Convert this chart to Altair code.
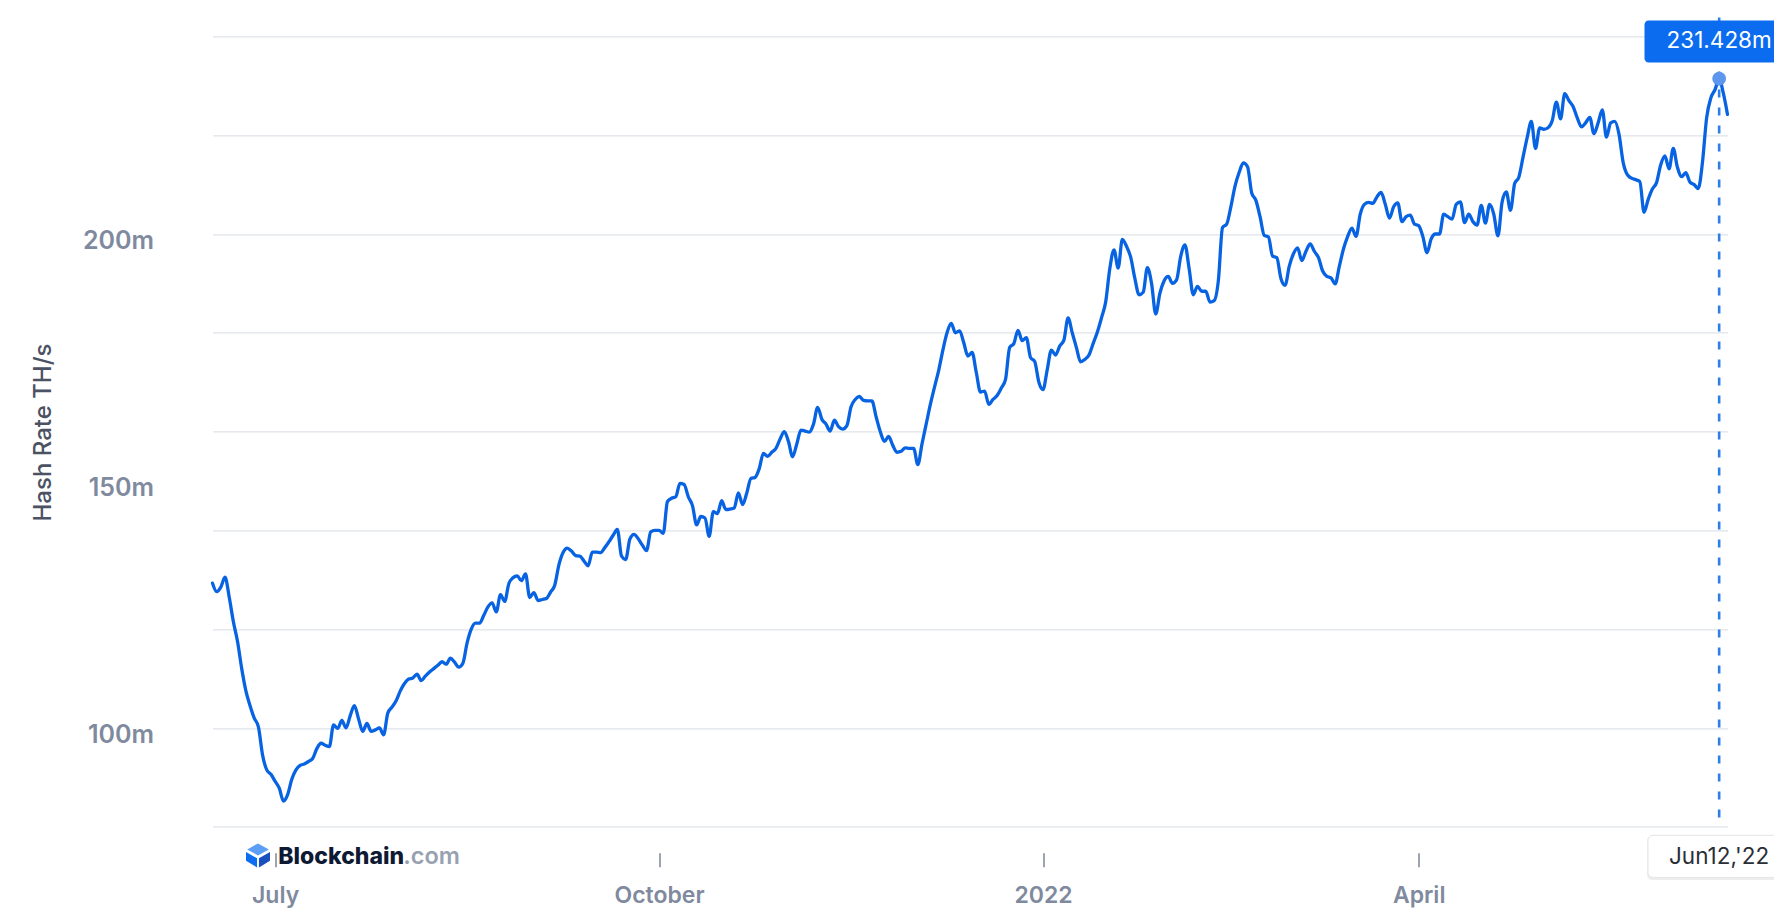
import altair as alt
import pandas as pd

# ---------------- data ----------------
start_date = "2021-06-16"
hash_rate = [
    129.3, 127.6, 128.5, 130.5, 126.5, 121.5, 117.5, 112.0, 107.5, 104.5,
    102.0, 100.2, 94.5, 91.5, 90.6, 89.2, 87.8, 85.2, 86.5, 89.6,
    91.5, 92.4, 92.7, 93.2, 93.8, 95.8, 96.9, 96.5, 96.2, 100.6,
    99.9, 101.5, 100.0, 102.5, 104.5, 101.8, 99.3, 100.9, 99.3, 99.6,
    100.0, 98.6, 103.0, 104.2, 105.5, 107.5, 109.0, 109.9, 110.1, 110.9,
    109.6, 110.5, 111.3, 112.0, 112.7, 113.4, 112.9, 114.1, 113.3, 112.3,
    113.1, 117.2, 120.0, 121.2, 121.2, 122.8, 124.5, 125.3, 123.5, 127.0,
    125.6, 129.2, 130.4, 130.8, 129.8, 131.2, 126.4, 127.4, 125.8, 126.0,
    126.2, 127.5, 128.9, 133.0, 135.5, 136.4, 135.8, 134.9, 134.8, 133.8,
    132.8, 135.6, 135.6, 135.5, 136.5, 137.7, 139.0, 140.2, 134.8, 134.1,
    138.2, 139.2, 138.3, 137.0, 135.9, 139.7, 140.0, 140.0, 139.4, 145.8,
    146.5, 146.8, 149.5, 149.3, 146.8, 145.0, 141.1, 142.8, 142.5, 138.8,
    143.8, 143.4, 146.0, 144.2, 144.3, 144.5, 147.6, 145.2, 147.5, 150.5,
    150.7, 152.5, 155.6, 155.0, 155.8, 156.6, 158.5, 160.0, 158.0, 154.9,
    157.5, 160.3, 160.1, 159.9, 161.5, 164.9, 162.5, 161.5, 160.1, 162.3,
    161.0, 160.5, 161.2, 165.0, 166.5, 167.1, 166.3, 166.2, 166.2, 163.0,
    160.0, 158.0, 159.0, 157.2, 155.8, 156.0, 156.7, 156.6, 156.6, 153.3,
    157.5, 161.5, 165.5, 169.0, 172.4, 176.5, 180.0, 181.9, 180.0, 180.4,
    178.0, 175.3, 176.0, 172.0, 168.0, 168.2, 165.5, 166.5, 167.3, 168.8,
    170.5, 177.0, 177.8, 180.5, 178.4, 179.0, 175.0, 174.2, 170.0, 168.5,
    172.5, 176.5, 175.5, 177.3, 178.5, 183.0, 180.0, 177.0, 174.1, 174.6,
    175.5, 177.8, 180.1, 183.0, 186.2, 193.0, 196.8, 193.1, 198.9, 197.5,
    195.3, 191.0, 187.7, 188.2, 193.2, 190.0, 183.8, 188.0, 190.5, 191.4,
    190.0, 190.7, 195.5, 197.8, 193.0, 187.7, 189.4, 188.4, 188.4, 186.2,
    186.5, 190.5, 201.3, 202.0, 205.5, 209.7, 212.5, 214.4, 213.6, 208.3,
    206.8, 203.5, 199.7, 199.4, 195.5, 195.2, 191.0, 189.6, 193.5, 196.0,
    197.2, 194.6, 196.5, 198.0, 196.5, 195.2, 192.5, 191.4, 191.1, 189.9,
    193.5, 197.0, 199.5, 201.2, 199.5, 204.0, 206.0, 206.4, 206.2, 207.5,
    208.4, 206.0, 203.2, 205.5, 206.3, 202.5, 203.5, 203.8, 202.0, 201.7,
    199.5, 196.2, 199.0, 200.0, 200.0, 204.0, 203.5, 203.0, 206.0, 206.5,
    202.3, 204.0, 202.5, 201.8, 205.8, 202.2, 206.0, 204.0, 199.6, 206.5,
    208.5, 204.8, 210.2, 211.5, 215.5, 219.5, 222.8, 217.3, 221.5, 221.2,
    221.5, 222.9, 226.7, 223.3, 228.4, 227.0, 225.8, 223.5, 221.7, 222.5,
    223.6, 220.3, 222.5, 225.1, 219.6, 222.5, 222.8, 220.2, 214.5, 212.0,
    211.3, 211.0, 210.6, 204.4, 207.0, 209.1, 210.4, 214.0, 215.8, 213.2,
    217.3, 213.5, 211.6, 212.4, 210.5, 210.0, 209.2, 214.5, 223.5, 227.5,
    229.2, 231.428, 228.5, 224.2,
]
tooltip_date = "2022-06-12"
tooltip_value = 231.428
tooltip_value_label = "231.428m"
tooltip_date_label = "Jun12,'22"
y_tick_values = [80, 100, 120, 140, 150, 160, 180, 200, 220, 240]
y_label_values = [100, 150, 200]
y_domain = [80, 240]
x_tick_dates = ["2021-07-01", "2021-10-01", "2022-01-01", "2022-04-01"]
y_title = "Hash Rate TH/s"
brand_name = "Blockchain"
brand_suffix = ".com"

# ---------------- tables ----------------
dates = pd.date_range(start_date, periods=len(hash_rate), freq="D")
df = pd.DataFrame({"date": dates, "hash_rate": hash_rate})
tip_df = pd.DataFrame({"date": [pd.Timestamp(tooltip_date)], "hash_rate": [tooltip_value]})
one = pd.DataFrame({"k": [0]})


def dt(s):
    t = pd.Timestamp(s)
    return alt.DateTime(year=t.year, month=t.month, date=t.day)


FONT = "Inter"
LABEL_GREY = "#808a9e"
BLUE = "#0863e3"

x_axis = alt.Axis(
    values=[dt(s) for s in x_tick_dates],
    labelExpr="month(datum.value) == 0 ? timeFormat(datum.value, '%Y') : timeFormat(datum.value, '%B')",
    grid=False,
    domain=False,
    ticks=True,
    tickSize=14,
    tickWidth=1.5,
    tickColor="#7d8596",
    offset=26,
    labelPadding=18,
    labelFont=FONT,
    labelFontSize=23,
    labelFontWeight=600,
    labelColor=LABEL_GREY,
    title="",
)

label_list = "[" + ",".join(str(v) for v in y_label_values) + "]"
y_axis = alt.Axis(
    values=y_tick_values,
    labelExpr=f"indexof({label_list}, datum.value) >= 0 ? datum.value + 'm' : ''",
    grid=True,
    gridColor="#d6dbe3",
    gridWidth=1,
    gridOpacity={"condition": {"test": "datum.value % 20 != 0", "value": 0}, "value": 1},
    domain=False,
    ticks=False,
    labelPadding=59,
    labelOffset=7,
    labelFont=FONT,
    labelFontSize=25,
    labelFontWeight=600,
    labelColor=LABEL_GREY,
    title=y_title,
    titleFont=FONT,
    titleFontSize=24,
    titleFontWeight=500,
    titleColor="#4b5263",
    titleAngle=270,
    titleAlign="center",
    titleBaseline="middle",
    titleX=-169.5,
    titleY=395.6,
)

x_scale = alt.Scale(domain=[dates[0].isoformat(), dates[-1].isoformat()], nice=False)
y_scale = alt.Scale(domain=y_domain, nice=False, zero=False)

x_enc = alt.X("date:T", scale=x_scale, axis=x_axis)
y_enc = alt.Y("hash_rate:Q", scale=y_scale, axis=y_axis)

line = alt.Chart(df).mark_line(
    color=BLUE, strokeWidth=3.3, interpolate="monotone",
    strokeJoin="round", strokeCap="round"
).encode(x=x_enc, y=y_enc)

rule = alt.Chart(tip_df).mark_rule(
    color="#2d7ee8", strokeWidth=2.6, strokeDash=[8, 10]
).encode(x=x_enc, y=alt.value(-19), y2=alt.value(782))

dot = alt.Chart(tip_df).mark_point(
    filled=True, size=190, color="#5d96ee", opacity=1
).encode(x=x_enc, y=y_enc)

value_box = alt.Chart(one).mark_rect(color="#0b6cf0", cornerRadius=4).encode(
    x=alt.value(1432), x2=alt.value(1580), y=alt.value(-16), y2=alt.value(26)
)
value_text = alt.Chart(tip_df).mark_text(
    text=tooltip_value_label, color="white", font=FONT, fontSize=22.5,
    align="center", baseline="middle"
).encode(x=x_enc, y=alt.value(5))

date_shadow = alt.Chart(one).mark_rect(color="#000000", opacity=0.07, cornerRadius=5).encode(
    x=alt.value(1434.5), x2=alt.value(1582), y=alt.value(799.5), y2=alt.value(843.5)
)
date_box = alt.Chart(one).mark_rect(
    fill="white", stroke="#e3e6ea", strokeWidth=1, cornerRadius=5
).encode(x=alt.value(1435.5), x2=alt.value(1580), y=alt.value(798.9), y2=alt.value(841))
date_text = alt.Chart(tip_df).mark_text(
    text=tooltip_date_label, color="#2a2e36", font=FONT, fontSize=22.5,
    align="center", baseline="middle"
).encode(x=x_enc, y=alt.value(820.5))

# logo: cube icon + wordmark
icon_top = alt.Chart(one).mark_point(
    shape="M0,-1L0.9,-0.5L0,0L-0.9,-0.5Z", size=576, filled=True,
    color="#5c9df5", opacity=1, strokeWidth=0
).encode(x=alt.value(45.5), y=alt.value(819))
icon_left = alt.Chart(one).mark_point(
    shape="M-1,-0.28L-0.08,0.24L-0.08,1L-1,0.45Z", size=576, filled=True,
    color="#0c6cf2", opacity=1, strokeWidth=0
).encode(x=alt.value(45.5), y=alt.value(819))
icon_right = alt.Chart(one).mark_point(
    shape="M1,-0.28L0.08,0.24L0.08,1L1,0.45Z", size=576, filled=True,
    color="#1a4fc0", opacity=1, strokeWidth=0
).encode(x=alt.value(45.5), y=alt.value(819))
brand = alt.Chart(one).mark_text(
    text=brand_name, font=FONT, fontSize=23, fontWeight=800, color="#0e1a33",
    align="left", baseline="middle"
).encode(x=alt.value(65.8), y=alt.value(820.3))
brand2 = alt.Chart(one).mark_text(
    text=brand_suffix, font=FONT, fontSize=23.5, fontWeight=600, color="#98a1b1",
    align="left", baseline="middle"
).encode(x=alt.value(190.8), y=alt.value(820.3))

chart = alt.layer(
    line, rule, dot, value_box, value_text, date_shadow, date_box, date_text,
    icon_top, icon_left, icon_right, brand, brand2
).properties(
    width=1515,
    height=790.3,
    padding={"left": 204.5, "top": 28.4, "right": 46.5, "bottom": 81.3},
    autosize=alt.AutoSizeParams(type="none"),
    background="white",
).configure_view(strokeWidth=0)

chart.save("out.html", embed_options={"renderer": "svg", "actions": False})
